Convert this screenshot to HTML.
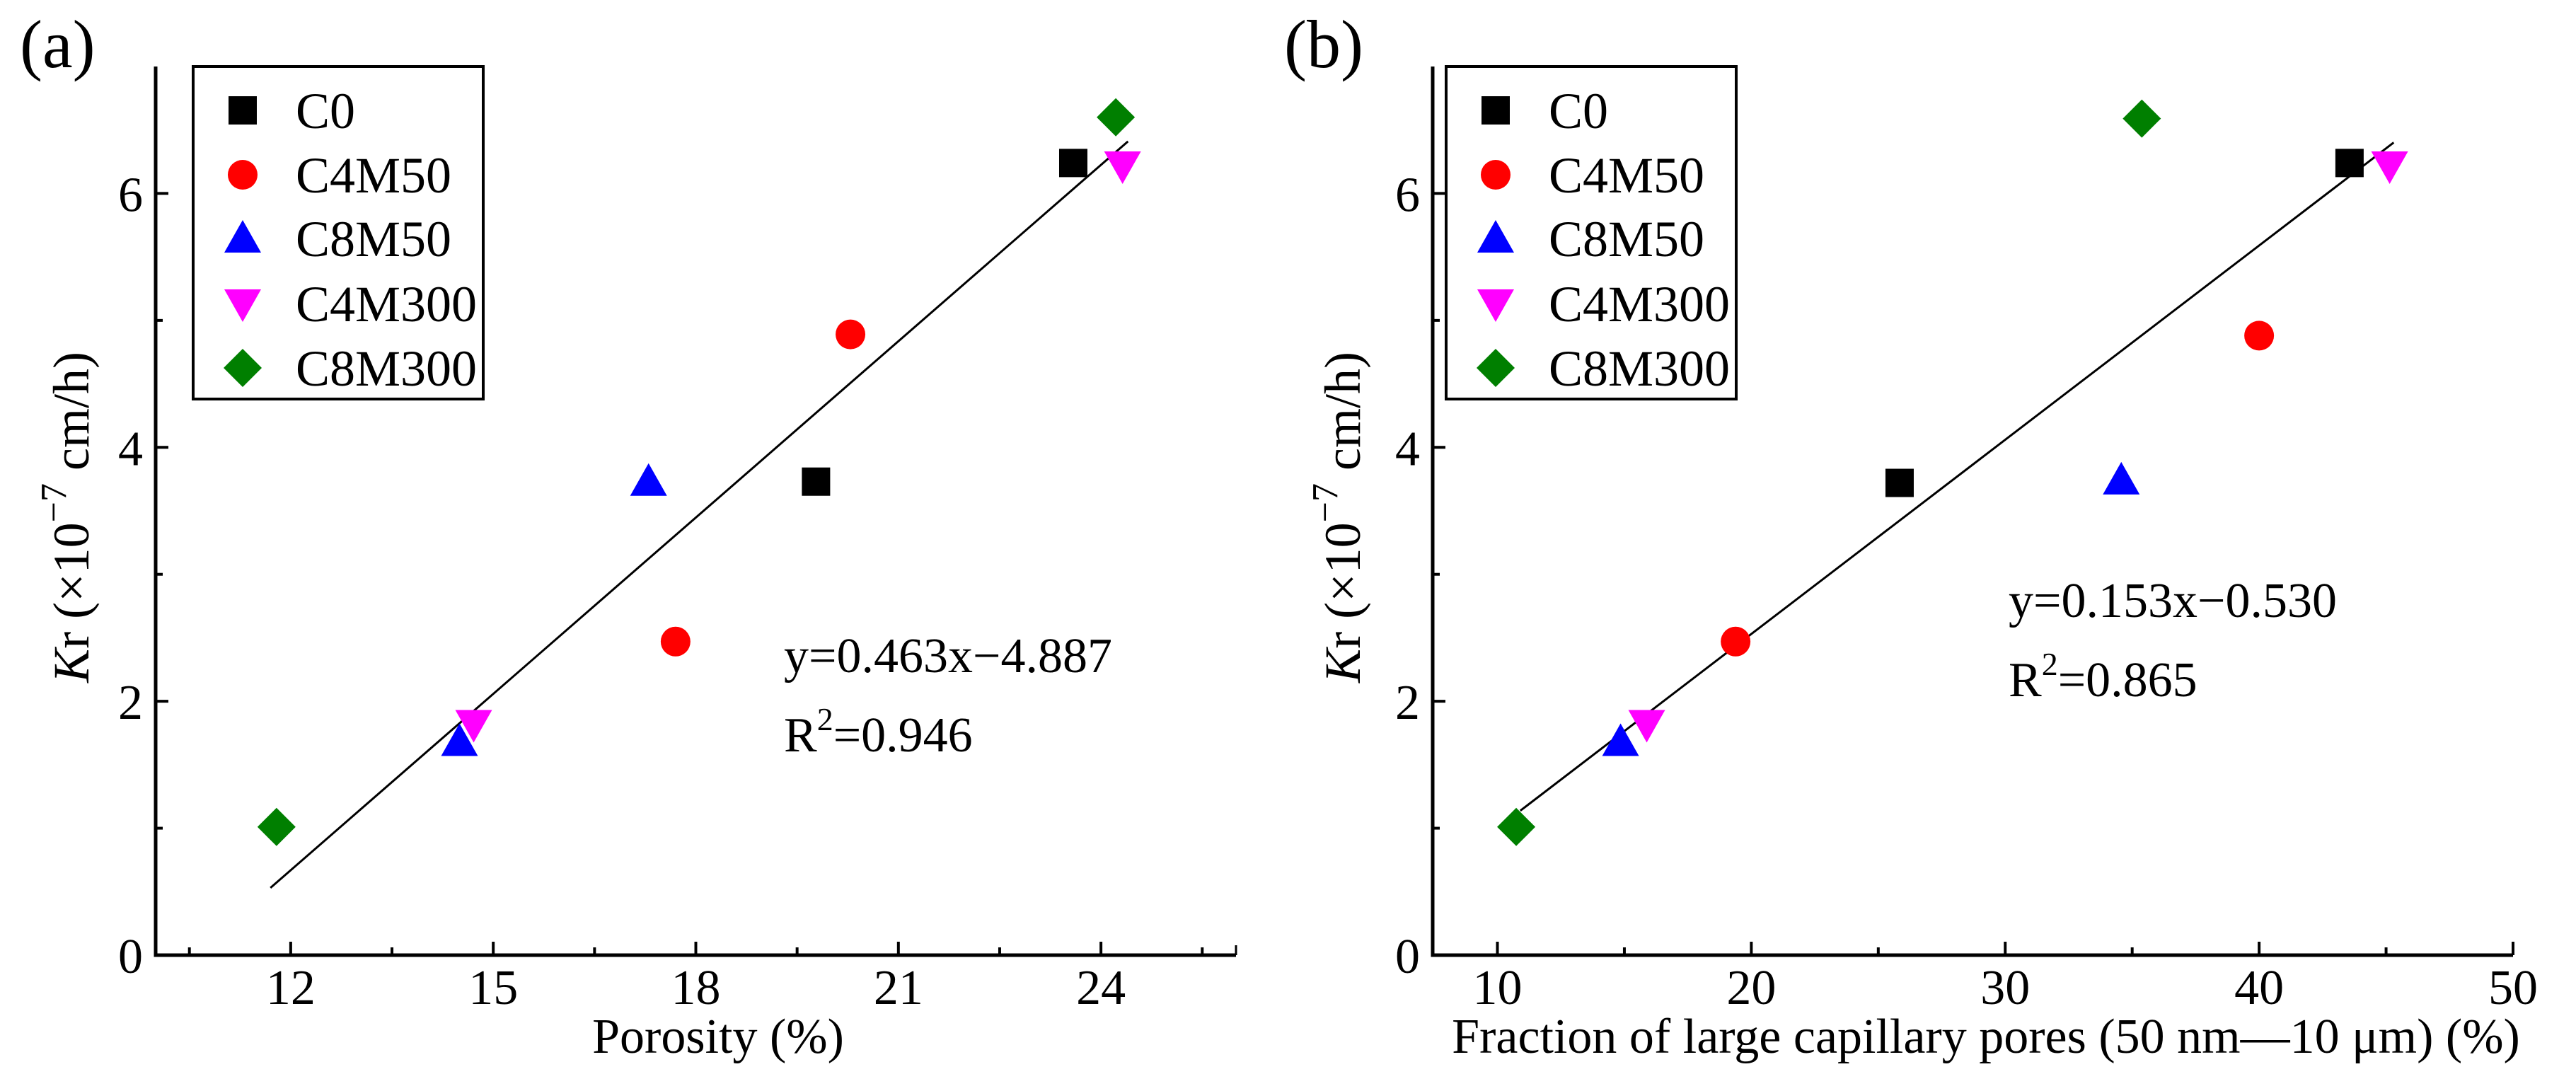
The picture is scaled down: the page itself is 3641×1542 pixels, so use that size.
<!DOCTYPE html>
<html><head><meta charset="utf-8"><style>
html,body{margin:0;padding:0;background:#fff;}
svg{display:block;font-family:"Liberation Serif",serif;}
</style></head><body>
<svg id="fig" width="3641" height="1542" viewBox="0 0 3641 1542" xmlns="http://www.w3.org/2000/svg">
<rect width="3641" height="1542" fill="#fff"/>
</svg>
<script>
const seriesNames = ["C0","C4M50","C8M50","C4M300","C8M300"];
const seriesColors = ["#000000","#ff0000","#0000ff","#ff00ff","#007f00"];
const markerShapes = ["square","circle","up","down","diamond"];
// Panel (a): porosity
const aX = [[23.59,19.78],[20.29,17.70],[17.30,14.50],[24.32,14.71],[24.22,11.79]];
const aY = [[6.24,3.73],[4.89,2.47],[3.73,1.68],[6.22,1.82],[6.60,1.01]];
const aXTicks = [12,15,18,21,24];
const aXMinor = [10.5,13.5,16.5,19.5,22.5,25.5];
const aFit = [0.463,-4.887];
const aFitRange = [11.7,24.4];
// Panel (b): fraction of large capillary pores
const bX = [[43.56,25.84],[40.0,19.38],[34.57,14.85],[45.14,15.88],[35.38,10.74]];
const bY = [[6.24,3.72],[4.88,2.47],[3.74,1.68],[6.22,1.82],[6.59,1.01]];
const bXTicks = [10,20,30,40,50];
const bXMinor = [15,25,35,45];
const bFit = [0.153,-0.530];
const bFitRange = [10.9,45.3];
const yTicks = [0,2,4,6];
const yMinor = [1,3,5];

const NS="http://www.w3.org/2000/svg";
const svg=document.getElementById('fig');
function mk(tag,attrs,parent){const e=document.createElementNS(NS,tag);for(const k in attrs)e.setAttribute(k,attrs[k]);(parent||svg).appendChild(e);return e;}

function panel(cfg){
  const g=mk('g',{});
  
  
  const L=cfg.left,R=cfg.right,T=94,B=1350;
  const sx=v=>L+(v-cfg.xmin)/(cfg.xmax-cfg.xmin)*(R-L);
  const sy=v=>B-(v-0)/(7-0)*(B-T);
  const ax=mk('path',{d:`M${L},${T} L${L},${B} L${R},${B}`,stroke:'#000','stroke-width':5,fill:'none'},g);
  
  
  const tr=mk('path',{d:`M${R},${B} L${R},${B-14}`,stroke:'#000','stroke-width':3},g);
  
  
  cfg.xTicks.forEach(v=>{
    const t=mk('line',{x1:sx(v),x2:sx(v),y1:B,y2:B-19,stroke:'#000','stroke-width':4},g);
    
    
    const l=mk('text',{x:sx(v),y:1419,'font-size':70,'text-anchor':'middle',fill:'#000'},g);
    l.textContent=v;
    
    
  });
  cfg.xMinor.forEach(v=>{
    const t=mk('line',{x1:sx(v),x2:sx(v),y1:B,y2:B-11,stroke:'#000','stroke-width':4},g);
    
    
  });
  yTicks.forEach(v=>{
    const t=mk('line',{x1:L,x2:L+18,y1:sy(v),y2:sy(v),stroke:'#000','stroke-width':4},g);
    
    
    const l=mk('text',{x:L-18,y:sy(v)+25,'font-size':70,'text-anchor':'end',fill:'#000'},g);
    l.textContent=v;
    
    
  });
  yMinor.forEach(v=>{
    const t=mk('line',{x1:L,x2:L+10,y1:sy(v),y2:sy(v),stroke:'#000','stroke-width':4},g);
    
    
  });
  const [m,c]=cfg.fit,[x0,x1]=cfg.fitRange;
  const fl=mk('line',{x1:sx(x0),y1:sy(m*x0+c),x2:sx(x1),y2:sy(m*x1+c),stroke:'#000','stroke-width':3},g);
  
  
  seriesNames.forEach((n,i)=>{
    cfg.xs[i].forEach((xv,j)=>{
      const p=marker(g,markerShapes[i],sx(xv),sy(cfg.ys[i][j]),seriesColors[i]);
      
      
    });
  });
  const lg=mk('g',{},g);
  
  
  const lb=mk('rect',{x:cfg.legX,y:94,width:410,height:470,fill:'#fff',stroke:'#000','stroke-width':4},lg);
  
  
  const rows=[156,247,337,429,520];
  seriesNames.forEach((n,i)=>{
    const e=mk('g',{},lg);
    
    
    marker(e,markerShapes[i],cfg.legX+70,rows[i],seriesColors[i]);
    const t=mk('text',{x:cfg.legX+145,y:rows[i]+25,'font-size':72,fill:'#000'},e);
    t.textContent=n;
  });
  const eq=mk('text',{x:cfg.eqX,y:cfg.eqY,'font-size':70,fill:'#000'},g);
  eq.textContent=cfg.eq;
  
  
  const r2=mk('text',{x:cfg.eqX,y:cfg.eqY+112,'font-size':70,fill:'#000'},g);
  r2.innerHTML='R<tspan dy="-30" font-size="46">2</tspan><tspan dy="30">='+cfg.r2+'</tspan>';
  
  
  const pl=mk('text',{x:cfg.labX,y:95,'font-size':96,fill:'#000'},g);
  pl.textContent=cfg.label;
  
  
  const xt=mk('text',{x:cfg.xtX,y:1488,'font-size':70,'text-anchor':'middle',fill:'#000'},g);
  xt.textContent=cfg.xTitle;
  
  
  const yt=mk('text',{x:0,y:0,'font-size':72,'text-anchor':'middle',fill:'#000',transform:`translate(${cfg.ytX},731) rotate(-90)`},g);
  yt.innerHTML='<tspan font-style="italic">K</tspan>r (×10<tspan dy="-32" font-size="52">−7</tspan><tspan dy="32"> cm/h)</tspan>';
  
  
}

function marker(parent,shape,x,y,color){
  if(shape==='square')return mk('rect',{x:x-20,y:y-20,width:40,height:40,fill:color},parent);
  if(shape==='circle')return mk('circle',{cx:x,cy:y,r:21,fill:color},parent);
  if(shape==='up')return mk('polygon',{points:`${x},${y-26} ${x+26},${y+20} ${x-26},${y+20}`,fill:color},parent);
  if(shape==='down')return mk('polygon',{points:`${x-26},${y-20} ${x+26},${y-20} ${x},${y+26}`,fill:color},parent);
  return mk('polygon',{points:`${x},${y-27} ${x+27},${y} ${x},${y+27} ${x-27},${y}`,fill:color},parent);
}

panel({name:'panel-a-porosity',left:220,right:1747,xmin:10,xmax:26,xTicks:aXTicks,xMinor:aXMinor,
  xs:aX,ys:aY,fit:aFit,fitRange:aFitRange,legX:273,eq:'y=0.463x−4.887',r2:'0.946',eqX:1108,eqY:950,
  label:'(a)',labX:28,xTitle:'Porosity (%)',xtX:1015,ytX:125});
panel({name:'panel-b-capillary-pores',left:2025,right:3552,xmin:7.45,xmax:50,xTicks:bXTicks,xMinor:bXMinor,
  xs:bX,ys:bY,fit:bFit,fitRange:bFitRange,legX:2044,eq:'y=0.153x−0.530',r2:'0.865',eqX:2839,eqY:872,
  label:'(b)',labX:1815,xTitle:'Fraction of large capillary pores (50 nm—10 μm) (%)',xtX:2807,ytX:1922});
</script>
</body></html>
